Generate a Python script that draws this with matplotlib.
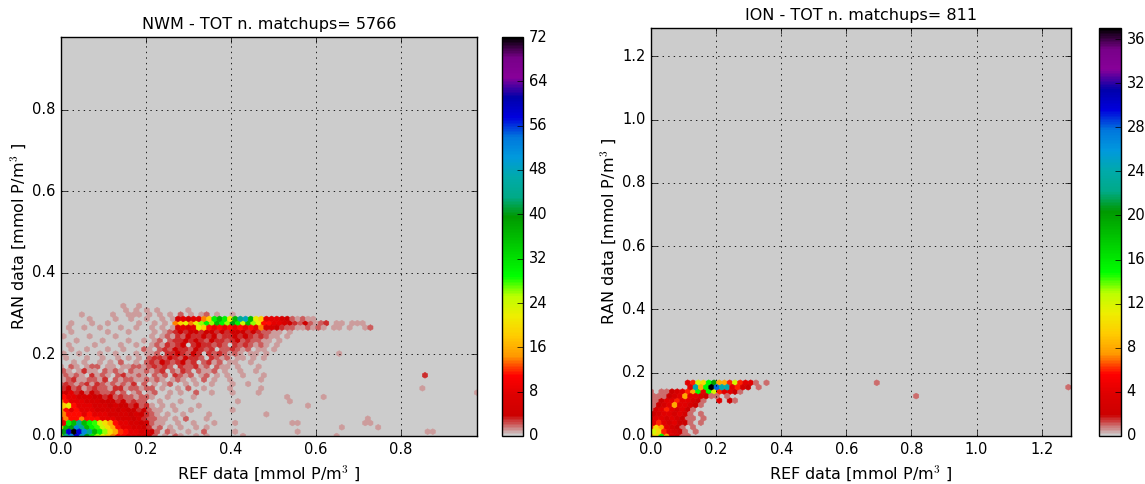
import numpy as np
import matplotlib
matplotlib.use("Agg")
import matplotlib.pyplot as plt

plt.style.use("classic")

# ---------------------------------------------------------------- data
# Matchup counts per hexagon row (bottom row first, REF increasing to the
# right).  '.' marks an empty hexagon.
NWM_TITLE = "NWM - TOT n. matchups= 5766"
NWM_RANGE = 0.979          # mmol P/m3, same on both axes
NWM_VMAX = 72
NWM_CBAR_TICKS = list(range(0, 73, 8))
NWM_ROWS = [
    "26 44 52 58 48 40 30 26 22 18 14 11 11 8 8 6 6 4 2 . 1 . 2 1 . . 1 . 1 . . . . . . 1",
    "40 58 72 58 52 44 36 30 26 20 16 12 11 8 8 6 6 4 2 . 2 1 . . 1 . . 2 . . . . . 1 . . . . . . . . . . . 1",
    "22 36 40 52 44 36 30 28 24 20 16 11 8 8 6 6 4 3 1 2 . 1 . 1 . . 1 . 1",
    "8 30 36 44 36 30 28 24 20 16 11 8 8 6 6 4 4 2 1 1 . . 1 . . 1 . . . 1 . . . 1 . . . . . . . . . . 1",
    "11 14 11 11 14 11 11 11 8 8 8 6 6 6 4 6 3 2 2 1 1 . 1 . 2 . . . 1",
    "14 11 11 11 8 11 8 8 8 6 6 6 6 4 6 4 3 2 1 . 1 . . 1 . . . . 1 . . . . . . . . . . 1",
    "16 11 8 11 8 8 8 6 6 6 6 4 6 4 4 3 4 2 1 1 . . 1 . . 1 . . . . . . . 1",
    "18 22 11 8 8 8 6 6 6 4 6 4 4 3 4 2 3 1 . 1 . 1 . . . . 1",
    "14 11 8 8 8 6 6 6 4 4 4 3 4 2 3 2 2 . . 1 . . . 1 . . . . . . . . . . 1 . . . . . . . . . 1",
    "11 8 8 6 6 6 4 4 3 4 2 3 2 2 1 2 2 1 . . 1 . . . . 1",
    "6 4 8 3 4 2 4 3 2 2 3 1 2 . 1 2 . 1 2 . . 1 . 1 . . 2 . . 1 . . . 1 . . . . 1",
    "3 4 2 3 1 2 3 2 2 1 3 3 1 2 2 1 2 2 . 1 . . 1 . 2 . . 1 . . . . 1 . . . . . 1",
    "2 3 2 1 2 3 1 3 2 1 2 1 2 1 3 . 2 . 1 . 1 2 . . 1 . 1 . . 1 . . . 1 . . 1",
    "1 2 3 1 1 2 2 1 3 . 2 1 2 2 1 1 2 1 2 1 . 1 2 1 . 1 . 2 . 1 . . 1 . . . . . 1",
    "1 2 1 2 1 . 3 1 2 1 . 2 3 1 1 2 1 . 2 1 2 . 3 2 1 2 . 1 2 . 1 . 1 . . 1 . . . 1",
    "2 1 . 1 3 1 1 . 2 1 2 1 . 2 1 1 2 1 2 3 . 2 1 3 2 . 2 1 1 2 . 1 . . 1 . . 1",
    "1 . 2 1 . 1 2 2 . 1 1 . 1 1 2 2 1 2 3 2 3 2 . 3 2 2 3 1 2 . 2 1 1 . 1 . . . 1",
    ". . 1 . 1 . . 1 . 1 . 2 . . 1 . 2 3 2 4 3 2 3 4 2 3 . 2 3 1 2 . 1 1 . . 1",
    ". 1 . . . 1 . . 1 . . 1 . 1 . 1 . 2 3 3 2 4 3 2 4 3 3 2 . 3 2 1 2 . 1 1 . 1 . 1",
    "1 . . 1 . . . 1 . . 1 . . . 1 . 1 1 2 . 3 3 4 3 2 4 3 . 3 2 3 2 1 2 1 . 1 1 . 1",
    ". . 1 . . 1 . . . 1 . . 1 . . . 2 1 . 2 3 2 4 3 3 2 4 3 2 3 . 2 2 3 2 1 2 . 1 1 . 1",
    ". 1 . . . . 1 . . . . 1 . . 1 . . 1 2 1 3 2 3 4 . 3 4 3 3 2 3 2 . 3 2 3 2 1 2 1 . 1",
    ". . . 1 . . . . 1 . . . . 1 . . 1 . 1 2 . 2 3 3 4 3 4 3 2 4 3 3 2 3 4 2 3 2 2 1 1 . 1",
    "1 . . . . 1 . . . . 1 . . . . . . 1 . 1 2 1 3 2 4 3 3 4 3 4 2 3 3 4 3 4 3 2 3 2 1 1 . 1",
    ". . 1 . . . . . . 1 . . . 1 . . . . 1 . 1 2 3 4 3 4 4 3 4 4 3 4 3 4 4 4 3 4 3 2 2 1 1 . 1",
    ". 1 . . 1 . . 1 . . . 1 . . 1 . . 1 . 1 . 1 6 8 6 8 22 18 11 8 11 8 11 8 11 8 11 8 14 6 6 4 3 2 2 1 1 2 1 . 1 . 1 . . 1 . . 1 1",
    ". . 1 . . . 1 . . 1 . . . . . 1 . . 1 . 1 . 14 18 22 14 22 26 30 26 36 30 26 40 30 24 36 26 22 11 11 8 8 6 4 3 2 4 2 1 2 1 . 1 1 . 1 . 1",
    ". . . . . 1 . . . . 1 . . 1 . . 1 . . 1 . 1 6 8 6 8 8 14 18 30 36 30 22 36 44 48 36 22 18 8 8 8 6 4 2 1 2 1 1",
    ". . . . 1 . . . . . 1 . . 1 1 1 . 1 . 1 . 1 . 2 . 1 . 1 2 . 1 . . 1",
    ". . . . . . . . . . . . 1 . 1 . 1 . 1 . . . . . 1",
]
NWM_EXTRA_X = [0.143, 0.186, 0.600, 0.620, 0.655, 0.656, 0.729, 0.700, 0.855,
               0.855, 0.973, 0.719, 0.719, 0.733, 0.743, 0.666, 0.646, 0.866,
               0.872, 0.580, 0.560, 0.535, 0.620]
NWM_EXTRA_Y = [0.320, 0.318, 0.268, 0.278, 0.270, 0.207, 0.268, 0.275, 0.147,
               0.113, 0.105, 0.046, 0.029, 0.035, 0.019, 0.019, 0.000, 0.010,
               0.015, 0.070, 0.030, 0.097, 0.100]
NWM_EXTRA_N = [1, 1, 2, 2, 1, 1, 1, 1, 3, 1, 1, 1, 1, 1, 1, 1, 1, 1, 1, 1, 1,
               1, 1]

ION_TITLE = "ION - TOT n. matchups= 811"
ION_RANGE = 1.29
ION_VMAX = 37
ION_CBAR_TICKS = list(range(0, 37, 4))
ION_ROWS = [
    "8 10 15 8 4 3 1 1",
    "12 10 6 4 3 2 1 . 1",
    "6 10 8 4 3 2 1 . 1",
    "4 6 4 3 4 2 2 1",
    "2 4 4 3 4 3 2 1 1",
    "2 3 4 4 3 4 3 1 . 1",
    "1 3 4 6 4 3 4 2 1",
    "1 2 3 4 8 4 4 3 2 1",
    "1 1 2 4 4 6 4 4 3 2 1 . . 1 . . 1",
    "1 1 1 2 3 4 8 4 4 3 2 1 1 . 1",
    "1 . 1 1 2 3 4 6 8 15 4 15 12 6 4 4 2 1",
    ". . . . . . . 4 24 8 15 37 28 24 24 4 6 3 2 . 1",
    ". . . . . . . 4 6 12 10 15 20 8 8 6 12 6 4 4 1 . 1",
]
ION_EXTRA_X = [0.217, 0.240, 0.694, 0.817, 1.285, 0.150, 0.160]
ION_EXTRA_Y = [0.114, 0.112, 0.164, 0.130, 0.150, 0.040, 0.050]
ION_EXTRA_N = [3, 2, 1, 1, 1, 1, 1]

X_LABEL = "REF data [mmol P/m$^3$ ]"
Y_LABEL = "RAN data [mmol P/m$^3$ ]"

GRIDSIZE = 80
CMAP = "nipy_spectral_r"


def hex_points(rows, vrange, ex_x, ex_y, ex_n):
    """Turn per-row hexagon counts into (REF, RAN, count) samples."""
    nx = GRIDSIZE
    ny = int(nx / np.sqrt(3))
    sx = vrange / nx
    sy = vrange / ny
    xs, ys, ns = [], [], []
    for k, row in enumerate(rows):
        for i, tok in enumerate(row.split()):
            if tok == ".":
                continue
            xs.append((i + 0.5 * (k % 2)) * sx)
            ys.append(k * sy / 2.0)
            ns.append(int(tok))
    xs += list(ex_x)
    ys += list(ex_y)
    ns += list(ex_n)
    return np.array(xs), np.array(ys), np.array(ns, dtype=float)


def panel(fig, ax_rect, cax_rect, rows, vrange, ex, vmax, ticks, title):
    ax = fig.add_axes(ax_rect)
    cmap = plt.get_cmap(CMAP)
    ax.set_facecolor(cmap(0.0))
    x, y, n = hex_points(rows, vrange, *ex)
    hb = ax.hexbin(x, y, C=n, reduce_C_function=np.sum, gridsize=GRIDSIZE,
                   extent=(0, vrange, 0, vrange), cmap=cmap,
                   vmin=0, vmax=vmax, edgecolors="face", linewidths=0.4)
    ax.set_xlim(0, vrange)
    ax.set_ylim(0, vrange)
    ax.grid(True, color="k", linestyle=":", linewidth=0.6)
    ax.set_axisbelow(False)
    ax.set_title(title, fontsize=11.5, pad=6)
    ax.set_xlabel(X_LABEL, fontsize=11.5)
    ax.set_ylabel(Y_LABEL, fontsize=11.5, labelpad=3)
    ax.tick_params(labelsize=10.5)
    cax = fig.add_axes(cax_rect)
    cb = fig.colorbar(hb, cax=cax, ticks=ticks)
    cb.ax.tick_params(labelsize=10.5)
    return ax


W, H = 1145, 484
fig = plt.figure(figsize=(W / 100, H / 100), dpi=100, facecolor="white")


def rect(x0, y0, x1, y1):
    return [x0 / W, 1 - y1 / H, (x1 - x0) / W, (y1 - y0) / H]


panel(fig, rect(61, 37, 477, 436), rect(502, 37, 523, 436), NWM_ROWS,
      NWM_RANGE, (NWM_EXTRA_X, NWM_EXTRA_Y, NWM_EXTRA_N), NWM_VMAX,
      NWM_CBAR_TICKS, NWM_TITLE)
panel(fig, rect(651, 28, 1071, 436), rect(1099, 28, 1121, 436), ION_ROWS,
      ION_RANGE, (ION_EXTRA_X, ION_EXTRA_Y, ION_EXTRA_N), ION_VMAX,
      ION_CBAR_TICKS, ION_TITLE)

fig.savefig("out.png", dpi=100, facecolor="white")
